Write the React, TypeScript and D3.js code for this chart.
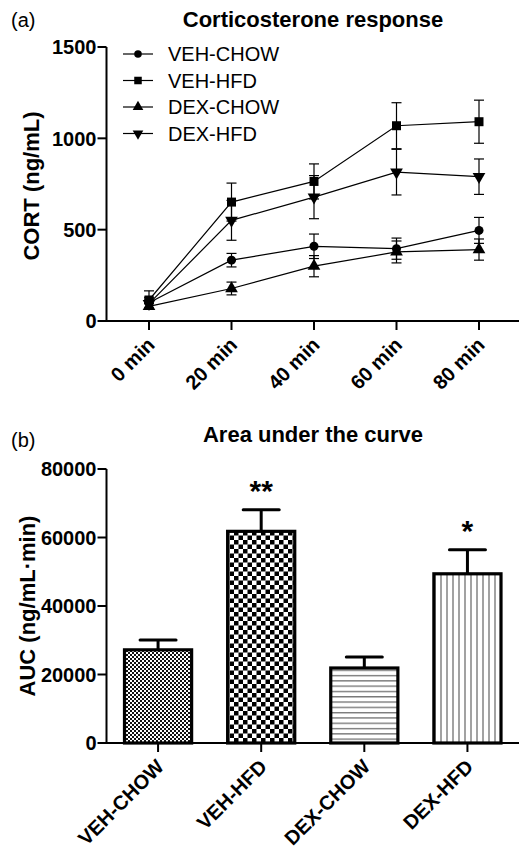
import React, { useEffect, useRef } from 'react'
import * as d3 from 'd3'

// panel (a) - corticosterone time course
const timePoints = [0, 20, 40, 60, 80]
const timeLabels = ['0 min', '20 min', '40 min', '60 min', '80 min']
const cortTicks = [0, 500, 1000, 1500]
const groupNames = ['VEH-CHOW', 'VEH-HFD', 'DEX-CHOW', 'DEX-HFD']

const vehChow = [100, 333, 409, 396, 496]
const vehChowErr = [30, 37, 67, 58, 71]
const vehHfd = [115, 651, 764, 1069, 1091]
const vehHfdErr = [50, 104, 96, 126, 118]
const dexChow = [80, 178, 300, 378, 391]
const dexChowErr = [15, 35, 58, 60, 58]
const dexHfd = [95, 551, 678, 815, 790]
const dexHfdErr = [25, 109, 118, 125, 97]

// panel (b) - area under the curve
const aucMeans = [27200, 61800, 21900, 49400]
const aucErr = [2900, 6300, 3200, 7000]
const aucStars = ['', '**', '', '*']
const aucTicks = [0, 20000, 40000, 60000, 80000]

const FONT = '"Liberation Sans", Arial, Helvetica, sans-serif'

function App() {
  const node = useRef<SVGSVGElement>(null)

  useEffect(() => {
    const svg = d3.select(node.current)
    svg.selectAll('*').remove()

    const axisX = 106.5
    const rightEdge = 519

    // ---------- patterns ----------
    const defs = svg.append('defs')
    const fine = defs.append('pattern').attr('id', 'fineCheck')
      .attr('patternUnits', 'userSpaceOnUse').attr('width', 4).attr('height', 4)
    fine.append('rect').attr('width', 4).attr('height', 4).attr('fill', '#fff')
    fine.append('rect').attr('width', 2).attr('height', 2).attr('fill', '#111')
    fine.append('rect').attr('x', 2).attr('y', 2).attr('width', 2).attr('height', 2).attr('fill', '#111')

    const coarse = defs.append('pattern').attr('id', 'coarseCheck')
      .attr('patternUnits', 'userSpaceOnUse').attr('width', 9).attr('height', 9)
    coarse.append('rect').attr('width', 9).attr('height', 9).attr('fill', '#fff')
    coarse.append('rect').attr('width', 4.5).attr('height', 4.5).attr('fill', '#000')
    coarse.append('rect').attr('x', 4.5).attr('y', 4.5).attr('width', 4.5).attr('height', 4.5).attr('fill', '#000')

    const hl = defs.append('pattern').attr('id', 'hLines')
      .attr('patternUnits', 'userSpaceOnUse').attr('width', 6).attr('height', 5.3)
    hl.append('rect').attr('width', 6).attr('height', 5.3).attr('fill', '#fff')
    hl.append('line').attr('x1', 0).attr('x2', 6).attr('y1', 2.5).attr('y2', 2.5)
      .attr('stroke', '#555').attr('stroke-width', 1.1)

    const vl = defs.append('pattern').attr('id', 'vLines')
      .attr('patternUnits', 'userSpaceOnUse').attr('width', 6).attr('height', 6)
    vl.append('rect').attr('width', 6).attr('height', 6).attr('fill', '#fff')
    vl.append('line').attr('y1', 0).attr('y2', 6).attr('x1', 3).attr('x2', 3)
      .attr('stroke', '#555').attr('stroke-width', 1.1)

    const fills = ['url(#fineCheck)', 'url(#coarseCheck)', 'url(#hLines)', 'url(#vLines)']

    // ---------- panel (a) ----------
    const x = d3.scaleLinear().domain([0, 80]).range([149, 479])
    const y = d3.scaleLinear().domain([0, 1500]).range([321, 47])
    const a = svg.append('g')

    a.append('text').text('(a)').attr('x', 11).attr('y', 27)
      .style('font-size', '20px').style('font-family', FONT)
    a.append('text').text('Corticosterone response').attr('x', 313).attr('y', 27)
      .attr('text-anchor', 'middle').style('font-size', '22px').style('font-weight', 'bold')
      .style('font-family', FONT)

    // y axis
    a.append('line').attr('x1', axisX).attr('x2', axisX).attr('y1', y(1500)).attr('y2', y(0) + 1)
      .attr('stroke', '#000').attr('stroke-width', 2)
    cortTicks.forEach(t => {
      a.append('line').attr('x1', axisX - 9).attr('x2', axisX).attr('y1', y(t)).attr('y2', y(t))
        .attr('stroke', '#000').attr('stroke-width', 2)
      a.append('text').text(String(t)).attr('x', axisX - 10).attr('y', y(t)).attr('dy', '0.36em')
        .attr('text-anchor', 'end').style('font-size', '20px').style('font-weight', 'bold')
        .style('font-family', FONT)
    })
    a.append('text').text('CORT (ng/mL)')
      .attr('transform', `translate(39,${(y(0) + y(1500)) / 2 + 2}) rotate(-90)`)
      .attr('text-anchor', 'middle').style('font-size', '22px').style('font-weight', 'bold')
      .style('font-family', FONT)

    // x axis
    a.append('line').attr('x1', axisX - 1).attr('x2', rightEdge).attr('y1', y(0)).attr('y2', y(0))
      .attr('stroke', '#000').attr('stroke-width', 2)
    timePoints.forEach((t, i) => {
      a.append('line').attr('x1', x(t)).attr('x2', x(t)).attr('y1', y(0) + 1).attr('y2', y(0) + 9)
        .attr('stroke', '#000').attr('stroke-width', 2)
      a.append('text').text(timeLabels[i])
        .attr('transform', `translate(${x(t) + 7},${y(0) + 25}) rotate(-45)`)
        .attr('text-anchor', 'end').style('font-size', '20px').style('font-weight', 'bold')
        .style('font-family', FONT)
    })

    const series = [
      { name: groupNames[0], values: vehChow, err: vehChowErr, shape: d3.symbolCircle, size: 64, rot: 0 },
      { name: groupNames[1], values: vehHfd, err: vehHfdErr, shape: d3.symbolSquare, size: 81, rot: 0 },
      { name: groupNames[2], values: dexChow, err: dexChowErr, shape: d3.symbolTriangle, size: 70, rot: 0 },
      { name: groupNames[3], values: dexHfd, err: dexHfdErr, shape: d3.symbolTriangle, size: 70, rot: 180 },
    ]

    const line = d3.line<number>().x((d, i) => x(timePoints[i])).y(d => y(d))

    series.forEach(s => {
      a.append('path').attr('d', line(s.values)).attr('fill', 'none')
        .attr('stroke', '#000').attr('stroke-width', 1.2)
      s.values.forEach((v, i) => {
        const cx = x(timePoints[i])
        const hi = y(v + s.err[i]), lo = y(v - s.err[i])
        a.append('line').attr('x1', cx).attr('x2', cx).attr('y1', hi).attr('y2', lo)
          .attr('stroke', '#000').attr('stroke-width', 1.2)
        ;[hi, lo].forEach(yy => {
          a.append('line').attr('x1', cx - 5).attr('x2', cx + 5).attr('y1', yy).attr('y2', yy)
            .attr('stroke', '#000').attr('stroke-width', 1.2)
        })
      })
      s.values.forEach((v, i) => {
        a.append('path').attr('d', d3.symbol().type(s.shape).size(s.size)())
          .attr('transform', `translate(${x(timePoints[i])},${y(v)}) rotate(${s.rot})`)
          .attr('fill', '#000')
      })
    })

    // legend
    series.forEach((s, i) => {
      const ly = 54 + i * 26.5
      a.append('line').attr('x1', 123).attr('x2', 153).attr('y1', ly).attr('y2', ly)
        .attr('stroke', '#000').attr('stroke-width', 1.2)
      a.append('path').attr('d', d3.symbol().type(s.shape).size(s.size * 0.7)())
        .attr('transform', `translate(138,${ly}) rotate(${s.rot})`).attr('fill', '#000')
      a.append('text').text(s.name).attr('x', 168).attr('y', ly).attr('dy', '0.36em')
        .style('font-size', '20px').style('font-family', FONT)
    })

    // ---------- panel (b) ----------
    const xb = d3.scaleBand().domain(groupNames).range([axisX, rightEdge])
      .paddingInner(0.32).paddingOuter(0.16)
    const yb = d3.scaleLinear().domain([0, 80000]).range([743, 469])
    const b = svg.append('g')

    b.append('text').text('(b)').attr('x', 11).attr('y', 447)
      .style('font-size', '20px').style('font-family', FONT)
    b.append('text').text('Area under the curve').attr('x', 313).attr('y', 442)
      .attr('text-anchor', 'middle').style('font-size', '22px').style('font-weight', 'bold')
      .style('font-family', FONT)

    b.append('line').attr('x1', axisX).attr('x2', axisX).attr('y1', yb(80000)).attr('y2', yb(0) + 1)
      .attr('stroke', '#000').attr('stroke-width', 2)
    aucTicks.forEach(t => {
      b.append('line').attr('x1', axisX - 9).attr('x2', axisX).attr('y1', yb(t)).attr('y2', yb(t))
        .attr('stroke', '#000').attr('stroke-width', 2)
      b.append('text').text(String(t)).attr('x', axisX - 10).attr('y', yb(t)).attr('dy', '0.36em')
        .attr('text-anchor', 'end').style('font-size', '20px').style('font-weight', 'bold')
        .style('font-family', FONT)
    })
    b.append('text').text('AUC (ng/mL·min)')
      .attr('transform', `translate(35,${(yb(0) + yb(80000)) / 2}) rotate(-90)`)
      .attr('text-anchor', 'middle').style('font-size', '22px').style('font-weight', 'bold')
      .style('font-family', FONT)

    groupNames.forEach((g, i) => {
      const bx = xb(g) as number
      const bw = xb.bandwidth()
      const cx = bx + bw / 2
      // error bar (upper only)
      b.append('line').attr('x1', cx).attr('x2', cx).attr('y1', yb(aucMeans[i])).attr('y2', yb(aucMeans[i] + aucErr[i]))
        .attr('stroke', '#000').attr('stroke-width', 3)
      b.append('line').attr('x1', cx - 18).attr('x2', cx + 18)
        .attr('y1', yb(aucMeans[i] + aucErr[i])).attr('y2', yb(aucMeans[i] + aucErr[i]))
        .attr('stroke', '#000').attr('stroke-width', 3).attr('stroke-linecap', 'round')
      b.append('rect').attr('x', bx + 1.5).attr('y', yb(aucMeans[i]))
        .attr('width', bw - 3).attr('height', yb(0) - yb(aucMeans[i]))
        .attr('fill', fills[i]).attr('stroke', '#000').attr('stroke-width', 3.2)
      if (aucStars[i]) {
        b.append('text').text(aucStars[i]).attr('x', cx).attr('y', yb(aucMeans[i] + aucErr[i]) - 9)
          .attr('text-anchor', 'middle').style('font-size', '30px').style('font-weight', 'bold')
          .style('font-family', FONT)
      }
    })

    b.append('line').attr('x1', axisX - 1).attr('x2', rightEdge).attr('y1', yb(0)).attr('y2', yb(0))
      .attr('stroke', '#000').attr('stroke-width', 2)
    groupNames.forEach(g => {
      const cx = (xb(g) as number) + xb.bandwidth() / 2
      b.append('line').attr('x1', cx).attr('x2', cx).attr('y1', yb(0) + 1).attr('y2', yb(0) + 9)
        .attr('stroke', '#000').attr('stroke-width', 2)
      b.append('text').text(g)
        .attr('transform', `translate(${cx + 7},${yb(0) + 25}) rotate(-45)`)
        .attr('text-anchor', 'end').style('font-size', '20px').style('font-weight', 'bold')
        .style('font-family', FONT)
    })
  }, [])

  return (
    <svg ref={node} width={519} height={852}
      style={{ position: 'absolute', left: 0, top: 0, background: '#fff' }} />
  )
}

export default App
